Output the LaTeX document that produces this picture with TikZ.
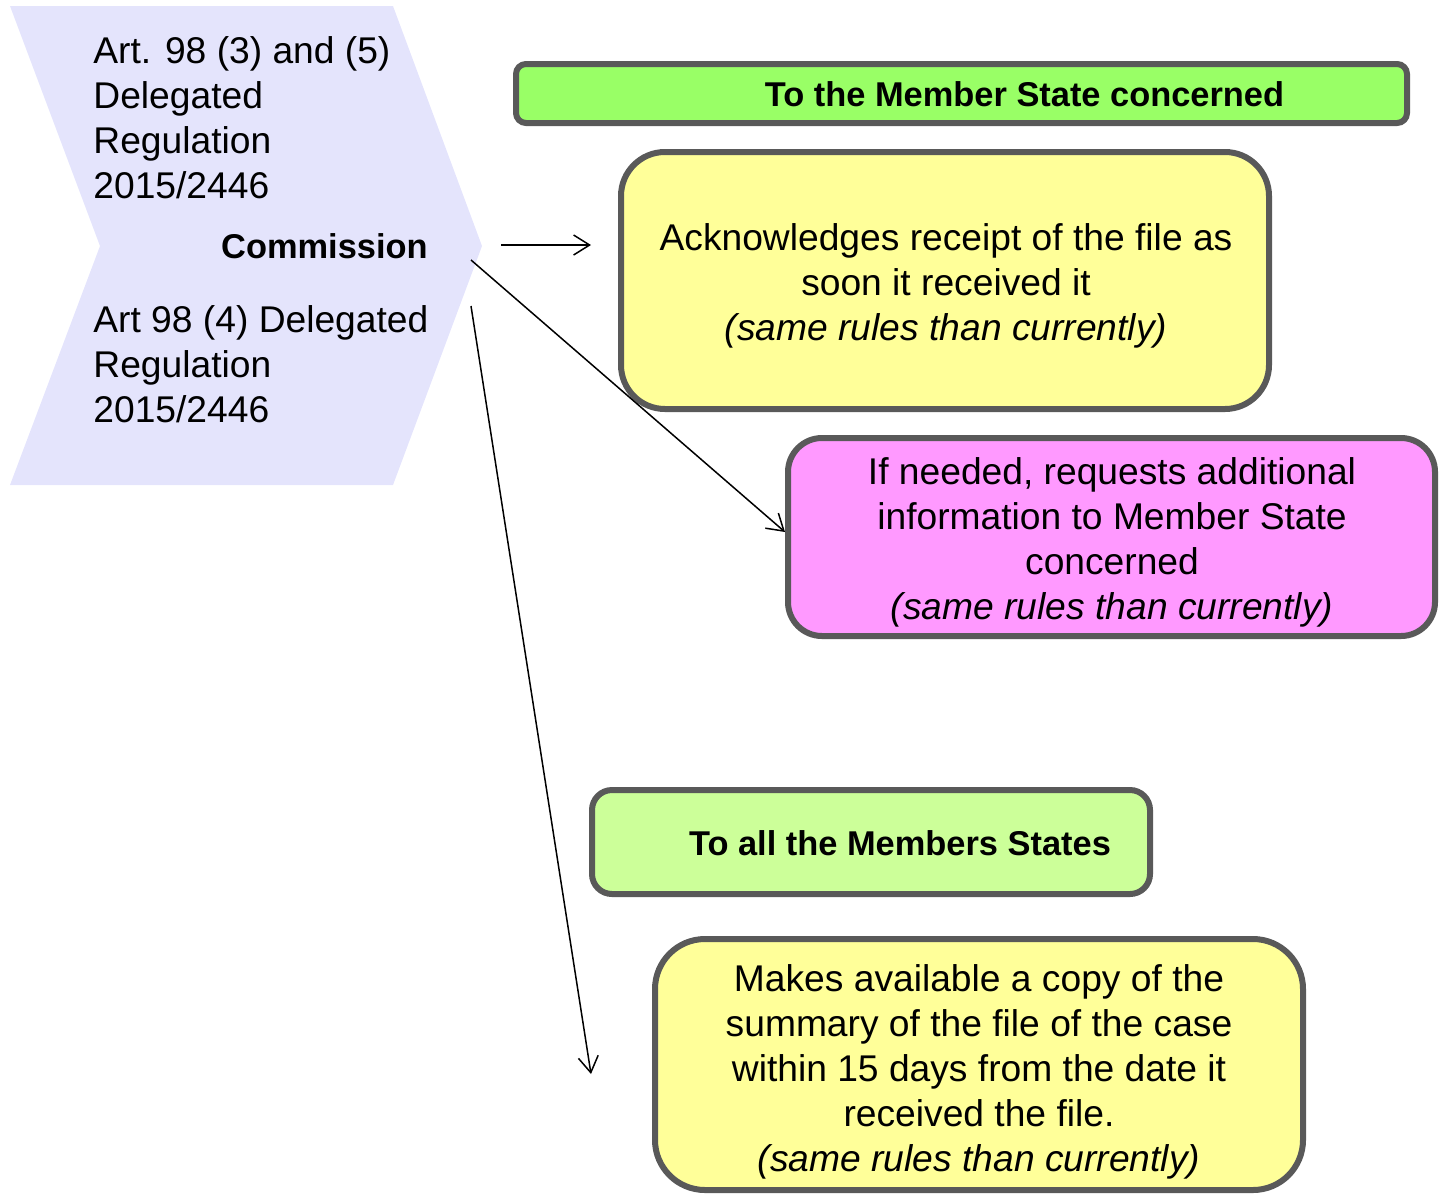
\documentclass[tikz,border=0pt]{standalone}
\usepackage{fontspec}
\setmainfont{Liberation Sans}
\usetikzlibrary{arrows.meta}
\definecolor{chev}{RGB}{228,228,252}
\definecolor{edge}{HTML}{595959}
\definecolor{hdrA}{HTML}{99FF66}
\definecolor{hdrB}{HTML}{CCFF99}
\definecolor{note}{HTML}{FFFF99}
\definecolor{pinkbox}{HTML}{FF99FF}
\tikzset{
  body/.style={font=\fontsize{18.6}{22.5}\selectfont},
  boldtxt/.style={font=\fontsize{17.2}{22.5}\selectfont\bfseries},
  panel/.style={draw=edge, line width=3pt, inner sep=0pt},
  paneltxt/.style={body, align=center, inner sep=0pt},
  link/.style={draw=black, line width=0.75pt, -{Straight Barb[length=8pt,width=10pt]}},
}
\begin{document}
\begin{tikzpicture}[x=0.5pt,y=-0.5pt]
\useasboundingbox (0,0) rectangle (1439,1195);

% chevron with the legal references
\fill[chev] (10,6) -- (393,6) -- (482,246) -- (393,485) -- (10,485) -- (100,246) -- cycle;
\node[body, anchor=base west, inner sep=0pt, align=left] (refA) at (93,198)
  {Art. 98 (3) and (5)\\Delegated\\Regulation\\2015/2446};
\node[boldtxt, anchor=east, inner sep=0pt] (comm) at (428,246) {Commission};
\node[body, anchor=base west, inner sep=0pt, align=left] (refB) at (93,422)
  {Art 98 (4) Delegated\\Regulation\\2015/2446};

% header: member state concerned
\node[panel, fill=hdrA, rounded corners=5pt, minimum width=445.5pt, minimum height=29.5pt] (hdrone) at (961.5,93.5) {};
\node[boldtxt, inner sep=0pt] (hdronetxt) at (1024.5,94) {To the Member State concerned};

% acknowledgement
\node[panel, fill=note, rounded corners=22pt, minimum width=324pt, minimum height=128.5pt] (ack) at (945,280.5) {};
\node[paneltxt] (acktxt) at (946,285.5)
  {Acknowledges receipt of the file as\\soon it received it\\\textit{(same rules than currently)}};

% request for information
\node[panel, fill=pinkbox, rounded corners=17pt, minimum width=323.5pt, minimum height=99pt] (req) at (1111.5,537) {};
\node[paneltxt] (reqtxt) at (1112,542)
  {If needed, requests additional\\information to Member State\\concerned\\\textit{(same rules than currently)}};

% header: all member states
\node[panel, fill=hdrB, rounded corners=10pt, minimum width=279pt, minimum height=52pt] (hdrtwo) at (871,842) {};
\node[boldtxt, inner sep=0pt] (hdrtwotxt) at (900,843) {To all the Members States};

% summary copy
\node[panel, fill=note, rounded corners=25pt, minimum width=324pt, minimum height=125.5pt] (copy) at (979,1064.5) {};
\node[paneltxt] (copytxt) at (979,1072)
  {Makes available a copy of the\\summary of the file of the case\\within 15 days from the date it\\received the file.\\\textit{(same rules than currently)}};

% connectors
\coordinate (s1) at (501,245);
\coordinate (e1) at (591,245);
\coordinate (s2) at (471,260);
\coordinate (s3) at (471,306);
\coordinate (e3) at (591,1074);
\draw[link] (s1) -- (e1);
\draw[link] (s2) -- (req.west |- 0,532);
\draw[link] (s3) -- (e3);
\end{tikzpicture}
\end{document}
